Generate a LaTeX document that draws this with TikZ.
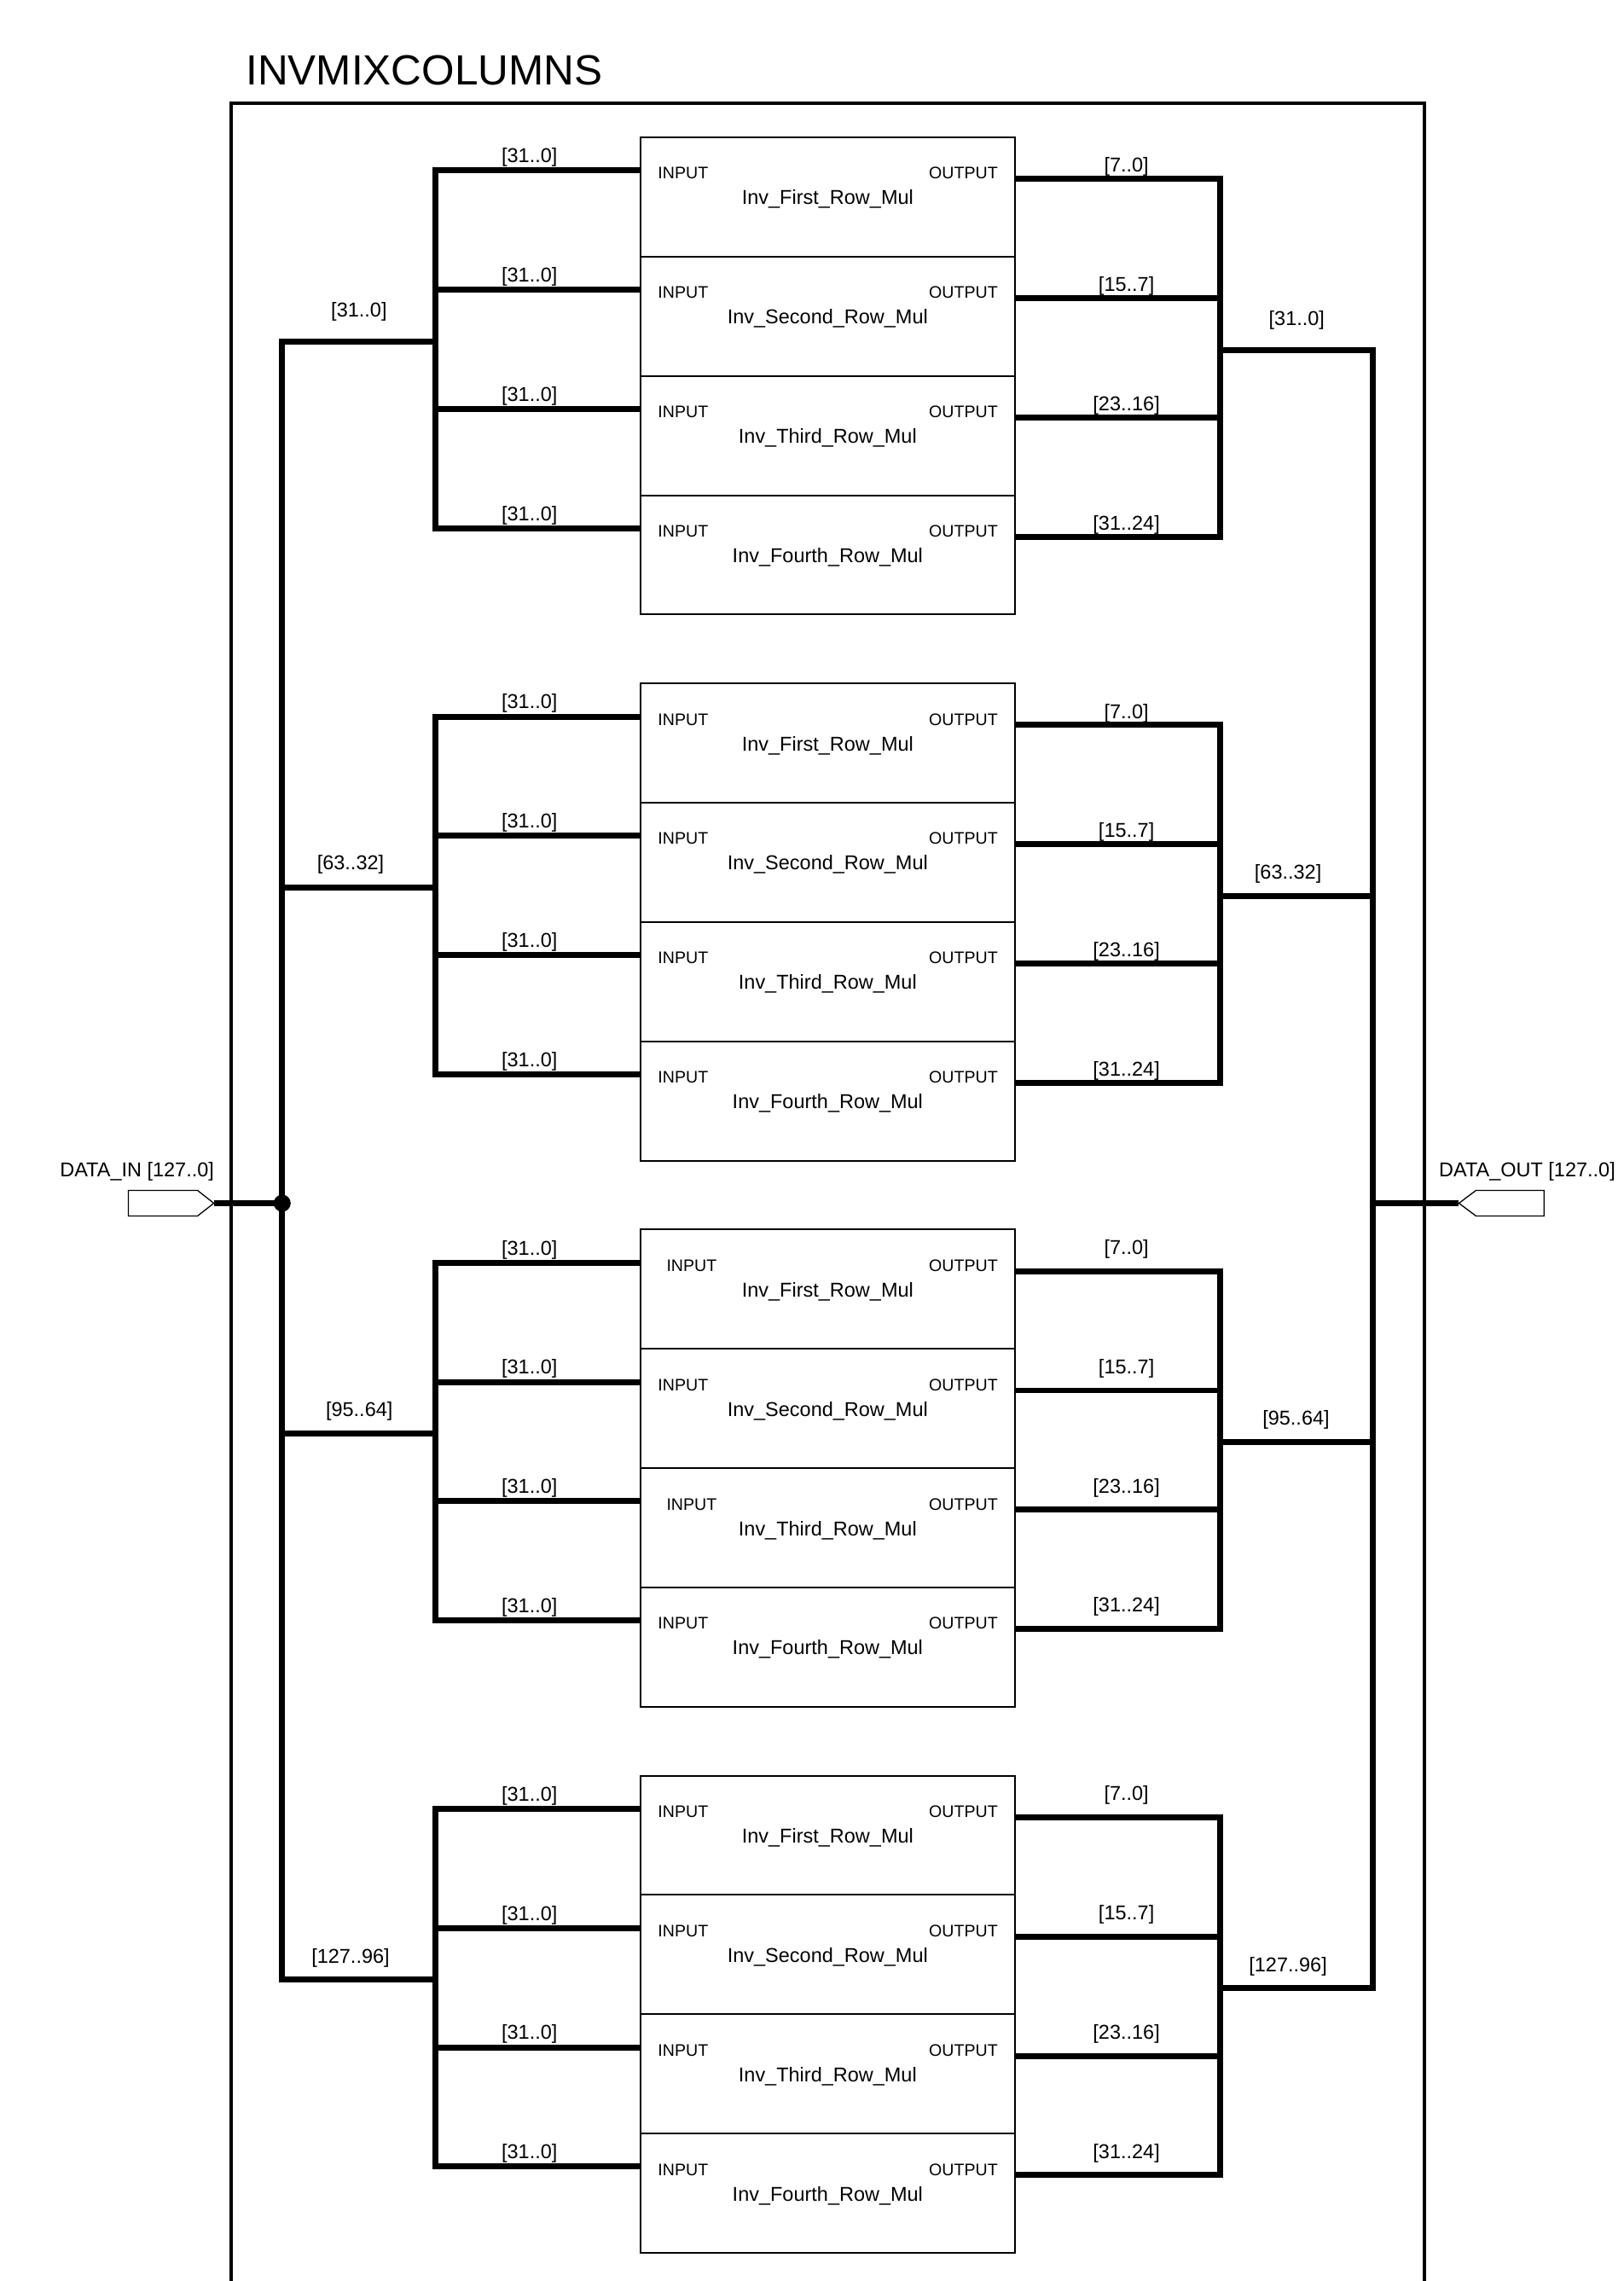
\documentclass[tikz,border=0pt]{standalone}
\usepackage{fontspec}
\setmainfont{Liberation Sans}
\usetikzlibrary{calc, positioning}

\tikzset{
  bus/.style={line width=7pt},
  frame/.style={line width=4pt, line join=miter},
  blk/.style={draw, line width=2pt, inner sep=0pt, outer sep=0pt, minimum width=439.8pt, minimum height=139.9pt, anchor=north west},
  lbl/.style={font=\fontsize{23.5}{28}\selectfont, inner sep=0pt, anchor=base},
  pinlbl/.style={font=\fontsize{19.6}{24}\selectfont, inner sep=0pt, anchor=base},
  ttl/.style={font=\fontsize{49.5}{60}\selectfont, inner sep=0pt, anchor=base west},
  port/.style={draw, line width=1.3pt, line join=miter},
  dot/.style={circle, fill, inner sep=0pt, minimum size=20pt}
}

\begin{document}
\begin{tikzpicture}[x=1.706pt, y=-1.706pt]
\useasboundingbox (0,0) rectangle (1116,1568);
\def\bxl{440.2}
\def\bxr{698}
\def\lsx{299.3}
\def\rsx{839}
\def\lmx{194}
\def\rmx{944}
\def\midy{827.1}

\draw[frame] (158.7,1575) -- (158.7,70.9) -- (979.5,70.9) -- (979.5,1575);
\node[ttl] (title) at (169,58.6) {INVMIXCOLUMNS};

\foreach \g/\gy/\lname/\lx/\rname/\rx/\dl/\od in {1/0/{[31..0]}/246.8/{[31..0]}/891.5/17/24,
    2/375.4/{[63..32]}/241/{[63..32]}/885.5/12/24,
    3/750.8/{[95..64]}/247/{[95..64]}/891/12/17,
    4/1126.2/{[127..96]}/241/{[127..96]}/885.5/11.5/17}{
  \pgfmathsetmacro{\gtop}{94.4+\gy}
  \foreach \r/\rname/\oname in {0/First/{[7..0]}, 1/Second/{[15..7]}, 2/Third/{[23..16]}, 3/Fourth/{[31..24]}}{
    \pgfmathsetmacro{\bt}{\gtop+82*\r}
    \pgfmathsetmacro{\ix}{(\g==3 && (\r==0 || \r==2)) ? 475.5 : 469.6}
    \node[blk] (b\g\r) at (\bxl,\bt) {};
    \node[pinlbl] (i\g\r) at (\ix,\bt+28.7) {INPUT};
    \node[pinlbl] (o\g\r) at (662.3,\bt+28.7) {OUTPUT};
    \node[lbl] (n\g\r) at (569,\bt+46.3) {Inv\_\rname\_Row\_Mul};
    \coordinate (in\g\r) at (\bxl,\bt+22.8);
    \coordinate (out\g\r) at (\bxr,\bt+28.6);
    \coordinate (ls\g\r) at (\lsx,\bt+22.8);
    \coordinate (rs\g\r) at (\rsx,\bt+28.6);
    \draw[bus] (ls\g\r) -- (in\g\r);
    \draw[bus] (out\g\r) -- (rs\g\r);
    \node[lbl] (il\g\r) at (364,\bt+17.4) {[31..0]};
    \node[lbl] (ol\g\r) at (774.4,\bt+\od) {\oname};
  }
  \pgfmathsetmacro{\ly}{\gtop+140.3}
  \pgfmathsetmacro{\ry}{\gtop+146.2}
  \coordinate (lb\g) at (\lmx,\ly);
  \coordinate (lj\g) at (\lsx,\ly);
  \coordinate (rj\g) at (\rsx,\ry);
  \coordinate (rb\g) at (\rmx,\ry);
  \draw[bus, line cap=rect] (ls\g0) -- (ls\g3);
  \draw[bus, line cap=rect] (rs\g0) -- (rs\g3);
  \draw[bus] (lb\g) -- (lj\g);
  \draw[bus] (rj\g) -- (rb\g);
  \node[lbl] (bl\g) at (\lx,\ly-\dl) {\lname};
  \node[lbl] (br\g) at (\rx,\ry-\dl) {\rname};
}

\draw[bus, line cap=rect] (lb1) -- (lb4);
\draw[bus, line cap=rect] (rb1) -- (rb4);

\draw[port] (88.3,818.3) -- (135.8,818.3) -- (147,\midy) -- (135.8,835.9) -- (88.3,835.9) -- cycle;
\coordinate (dinpin) at (147,\midy);
\node[dot] (jin) at (\lmx,\midy) {};
\draw[bus] (dinpin) -- (jin.center);
\node[lbl] (dinl) at (94.2,809) {DATA\_IN [127..0]};

\draw[port] (1061.5,818.3) -- (1014.7,818.3) -- (1003,\midy) -- (1014.7,835.9) -- (1061.5,835.9) -- cycle;
\coordinate (doutpin) at (1003,\midy);
\coordinate (jout) at (\rmx,\midy);
\draw[bus] (jout) -- (doutpin);
\node[lbl] (doutl) at (1049.9,809) {DATA\_OUT [127..0]};
\end{tikzpicture}
\end{document}
